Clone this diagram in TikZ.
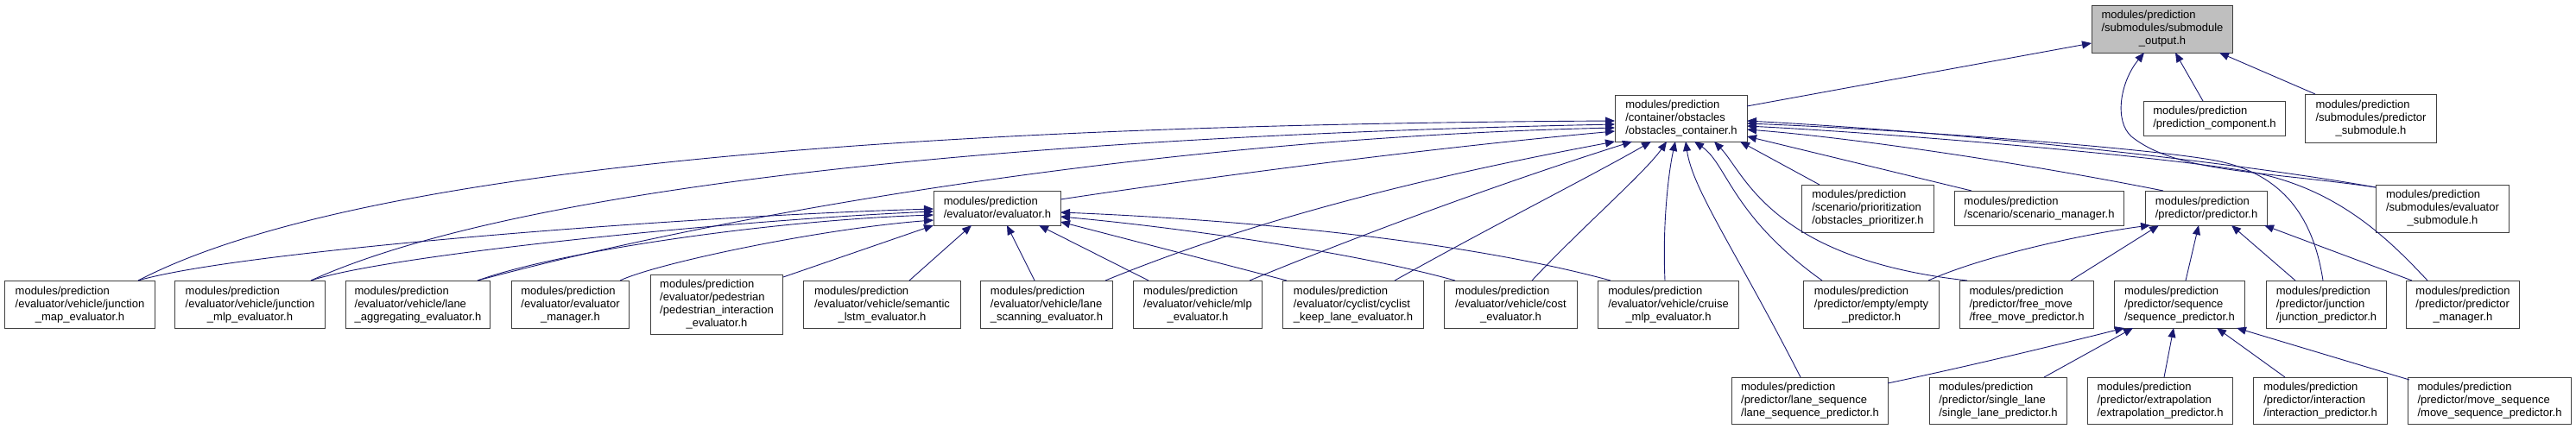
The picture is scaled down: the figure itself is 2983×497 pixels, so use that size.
\documentclass[tikz,border=0pt]{standalone}
\usepackage{fontspec}
\setmainfont{Liberation Sans}
\usetikzlibrary{arrows.meta}
\definecolor{edgec}{HTML}{191970}
\definecolor{boxc}{HTML}{404040}
\definecolor{rootfill}{HTML}{BFBFBF}
\newcommand\lbl[2]{\begin{tabular}{@{}l@{}}#1\\\multicolumn{1}{@{}c@{}}{#2}\end{tabular}}
\tikzset{
  box/.style={draw=boxc, line width=1pt, fill=white, inner sep=0pt, rectangle, anchor=north west, font=\fontsize{13}{15}\selectfont},
  sz/.style 2 args={minimum width=#1pt, minimum height=#2pt},
  edge/.style={draw=edgec, line width=0.9pt, -{Triangle[length=11pt,width=9pt]}}
}
\begin{document}
\begin{tikzpicture}[x=1pt,y=-1pt]
\useasboundingbox (0,0) rectangle (2983,497);
% top
\node[box, sz={163}{55}, fill=rootfill] (root) at (2422,6) {\lbl{modules/prediction\\/submodules/submodule}{\_output.h}};
% row 2
\node[box, sz={153}{54}] (cont) at (1870,110) {\lbl{modules/prediction\\/container/obstacles}{/obstacles\_container.h}};
\node[box, sz={164}{40}] (pcomp) at (2482,117) {\lbl{modules/prediction}{/prediction\_component.h}};
\node[box, sz={152}{56}] (psub) at (2669,109) {\lbl{modules/prediction\\/submodules/predictor}{\_submodule.h}};
% row 3
\node[box, sz={147}{40}] (eval) at (1081,221) {\lbl{modules/prediction}{/evaluator/evaluator.h}};
\node[box, sz={153}{55}] (prio) at (2086,214) {\lbl{modules/prediction\\/scenario/prioritization}{/obstacles\_prioritizer.h}};
\node[box, sz={196}{40}] (scen) at (2263,221) {\lbl{modules/prediction}{/scenario/scenario\_manager.h}};
\node[box, sz={141}{40}] (pred) at (2484,221) {\lbl{modules/prediction}{/predictor/predictor.h}};
\node[box, sz={154}{55}] (esub) at (2751,214) {\lbl{modules/prediction\\/submodules/evaluator}{\_submodule.h}};
% row 4
\node[box, sz={174}{55}] (jmap) at (5,325) {\lbl{modules/prediction\\/evaluator/vehicle/junction}{\_map\_evaluator.h}};
\node[box, sz={174}{55}] (jmlp) at (202,325) {\lbl{modules/prediction\\/evaluator/vehicle/junction}{\_mlp\_evaluator.h}};
\node[box, sz={167}{55}] (lagg) at (400,325) {\lbl{modules/prediction\\/evaluator/vehicle/lane}{\_aggregating\_evaluator.h}};
\node[box, sz={136}{55}] (emgr) at (592,325) {\lbl{modules/prediction\\/evaluator/evaluator}{\_manager.h}};
\node[box, sz={153}{69}] (ped) at (753,318) {\lbl{modules/prediction\\/evaluator/pedestrian\\/pedestrian\_interaction}{\_evaluator.h}};
\node[box, sz={182}{55}] (slstm) at (930,325) {\lbl{modules/prediction\\/evaluator/vehicle/semantic}{\_lstm\_evaluator.h}};
\node[box, sz={153}{55}] (lscan) at (1135,325) {\lbl{modules/prediction\\/evaluator/vehicle/lane}{\_scanning\_evaluator.h}};
\node[box, sz={149}{55}] (mlp) at (1312,325) {\lbl{modules/prediction\\/evaluator/vehicle/mlp}{\_evaluator.h}};
\node[box, sz={163}{55}] (cyc) at (1485,325) {\lbl{modules/prediction\\/evaluator/cyclist/cyclist}{\_keep\_lane\_evaluator.h}};
\node[box, sz={154}{55}] (cost) at (1672,325) {\lbl{modules/prediction\\/evaluator/vehicle/cost}{\_evaluator.h}};
\node[box, sz={163}{55}] (cruise) at (1850,325) {\lbl{modules/prediction\\/evaluator/vehicle/cruise}{\_mlp\_evaluator.h}};
\node[box, sz={157}{55}] (empty) at (2088,325) {\lbl{modules/prediction\\/predictor/empty/empty}{\_predictor.h}};
\node[box, sz={155}{55}] (free) at (2269,325) {\lbl{modules/prediction\\/predictor/free\_move}{/free\_move\_predictor.h}};
\node[box, sz={151}{55}] (seq) at (2448,325) {\lbl{modules/prediction\\/predictor/sequence}{/sequence\_predictor.h}};
\node[box, sz={139}{55}] (jpred) at (2624,325) {\lbl{modules/prediction\\/predictor/junction}{/junction\_predictor.h}};
\node[box, sz={131}{55}] (pmgr) at (2786,325) {\lbl{modules/prediction\\/predictor/predictor}{\_manager.h}};
% row 5
\node[box, sz={181}{54}] (lseq) at (2005,437) {\lbl{modules/prediction\\/predictor/lane\_sequence}{/lane\_sequence\_predictor.h}};
\node[box, sz={159}{54}] (single) at (2234,437) {\lbl{modules/prediction\\/predictor/single\_lane}{/single\_lane\_predictor.h}};
\node[box, sz={168}{54}] (extra) at (2417,437) {\lbl{modules/prediction\\/predictor/extrapolation}{/extrapolation\_predictor.h}};
\node[box, sz={155}{54}] (inter) at (2609,437) {\lbl{modules/prediction\\/predictor/interaction}{/interaction\_predictor.h}};
\node[box, sz={189}{54}] (move) at (2788,437) {\lbl{modules/prediction\\/predictor/move\_sequence}{/move\_sequence\_predictor.h}};

% edges into obstacles container
\draw[edge] ([shift={(155,0)}]jmap.north west) .. controls (400,200) and (1000,145) .. ([shift={(0,30)}]cont.north west);
\draw[edge] ([shift={(158,0)}]jmlp.north west) .. controls (580,225) and (1100,160) .. ([shift={(0,34)}]cont.north west);
\draw[edge] ([shift={(153,0)}]lagg.north west) .. controls (850,245) and (1350,160) .. ([shift={(0,38)}]cont.north west);
\draw[edge] ([shift={(147,10)}]eval.north west) .. controls (1400,205) and (1650,172) .. ([shift={(0,42)}]cont.north west);
\draw[edge] ([shift={(145,0)}]lscan.north west) .. controls (1450,255) and (1650,205) .. ([shift={(0,54)}]cont.north west);
\draw[edge] ([shift={(135,0)}]mlp.north west) .. controls (1600,262) and (1760,205) .. ([shift={(20,54)}]cont.north west);
\draw[edge] ([shift={(130,0)}]cyc.north west) .. controls (1720,266) and (1850,200) .. ([shift={(42,54)}]cont.north west);
\draw[edge] ([shift={(102,0)}]cost.north west) .. controls (1830,265) and (1905,200) .. ([shift={(60,54)}]cont.north west);
\draw[edge] ([shift={(78,0)}]cruise.north west) .. controls (1925,260) and (1932,200) .. ([shift={(70,54)}]cont.north west);
\draw[edge] ([shift={(80,0)}]lseq.north west) .. controls (2010,290) and (1960,220) .. ([shift={(82,54)}]cont.north west);
\draw[edge] ([shift={(22,0)}]empty.north west) .. controls (2005,250) and (2000,190) .. ([shift={(92,54)}]cont.north west);
\draw[edge] ([shift={(9,0)}]free.north west) .. controls (2050,300) and (2020,200) .. ([shift={(115,54)}]cont.north west);
\draw[edge] ([shift={(21,0)}]prio.north west) -- ([shift={(145,54)}]cont.north west);
\draw[edge] ([shift={(20,0)}]scen.north west) -- ([shift={(153,48)}]cont.north west);
\draw[edge] ([shift={(21,0)}]pred.north west) .. controls (2350,190) and (2150,160) .. ([shift={(153,40)}]cont.north west);
\draw[edge] ([shift={(0,3)}]esub.north west) .. controls (2600,190) and (2300,155) .. ([shift={(153,30)}]cont.north west);
\draw[edge] ([shift={(66,0)}]jpred.north west) .. controls (2680,260) and (2650,200) .. (2560,185) .. controls (2470,170) and (2200,150) .. ([shift={(153,33)}]cont.north west);
\draw[edge] ([shift={(25,0)}]pmgr.north west) .. controls (2760,270) and (2700,215) .. (2600,198) .. controls (2500,181) and (2200,155) .. ([shift={(153,36)}]cont.north west);

% edges into root
\draw[edge] ([shift={(153,13)}]cont.north west) -- ([shift={(0,44)}]root.north west);
\draw[edge] ([shift={(69,0)}]pcomp.north west) -- ([shift={(97,55)}]root.north west);
\draw[edge] ([shift={(12,0)}]psub.north west) -- ([shift={(148,55)}]root.north west);
\draw[edge] ([shift={(0,3)}]esub.north west) .. controls (2620,198) and (2520,200) .. (2468,158) .. controls (2448,140) and (2455,95) .. ([shift={(61,55)}]root.north west);

% edges into evaluator.h
\draw[edge] ([shift={(155,0)}]jmap.north west) .. controls (280,290) and (800,250) .. ([shift={(0,21)}]eval.north west);
\draw[edge] ([shift={(158,0)}]jmlp.north west) .. controls (450,295) and (850,255) .. ([shift={(0,24)}]eval.north west);
\draw[edge] ([shift={(153,0)}]lagg.north west) .. controls (650,290) and (900,255) .. ([shift={(0,28)}]eval.north west);
\draw[edge] ([shift={(126,0)}]emgr.north west) .. controls (760,305) and (950,265) .. ([shift={(0,34)}]eval.north west);
\draw[edge] ([shift={(154,3)}]ped.north west) -- ([shift={(0,40)}]eval.north west);
\draw[edge] ([shift={(123,0)}]slstm.north west) -- ([shift={(44,40)}]eval.north west);
\draw[edge] ([shift={(63,0)}]lscan.north west) -- ([shift={(85,40)}]eval.north west);
\draw[edge] ([shift={(18,0)}]mlp.north west) -- ([shift={(122,40)}]eval.north west);
\draw[edge] ([shift={(5,0)}]cyc.north west) -- ([shift={(147,36)}]eval.north west);
\draw[edge] ([shift={(13,0)}]cost.north west) .. controls (1560,290) and (1350,262) .. ([shift={(147,30)}]eval.north west);
\draw[edge] ([shift={(15,0)}]cruise.north west) .. controls (1700,280) and (1450,255) .. ([shift={(147,25)}]eval.north west);

% edges into predictor.h
\draw[edge] ([shift={(145,0)}]empty.north west) .. controls (2300,295) and (2420,270) .. ([shift={(6,40)}]pred.north west);
\draw[edge] ([shift={(129,0)}]free.north west) -- ([shift={(16,40)}]pred.north west);
\draw[edge] ([shift={(83,0)}]seq.north west) -- ([shift={(62,40)}]pred.north west);
\draw[edge] ([shift={(34,0)}]jpred.north west) -- ([shift={(100,40)}]pred.north west);
\draw[edge] ([shift={(7,0)}]pmgr.north west) -- ([shift={(138,40)}]pred.north west);

% edges into sequence_predictor.h
\draw[edge] ([shift={(181,7)}]lseq.north west) .. controls (2300,420) and (2420,390) .. ([shift={(12,55)}]seq.north west);
\draw[edge] ([shift={(133,0)}]single.north west) -- ([shift={(22,55)}]seq.north west);
\draw[edge] ([shift={(89,0)}]extra.north west) -- ([shift={(69,55)}]seq.north west);
\draw[edge] ([shift={(37,0)}]inter.north west) -- ([shift={(119,55)}]seq.north west);
\draw[edge] ([shift={(2,3)}]move.north west) -- ([shift={(142,55)}]seq.north west);
\end{tikzpicture}
\end{document}
